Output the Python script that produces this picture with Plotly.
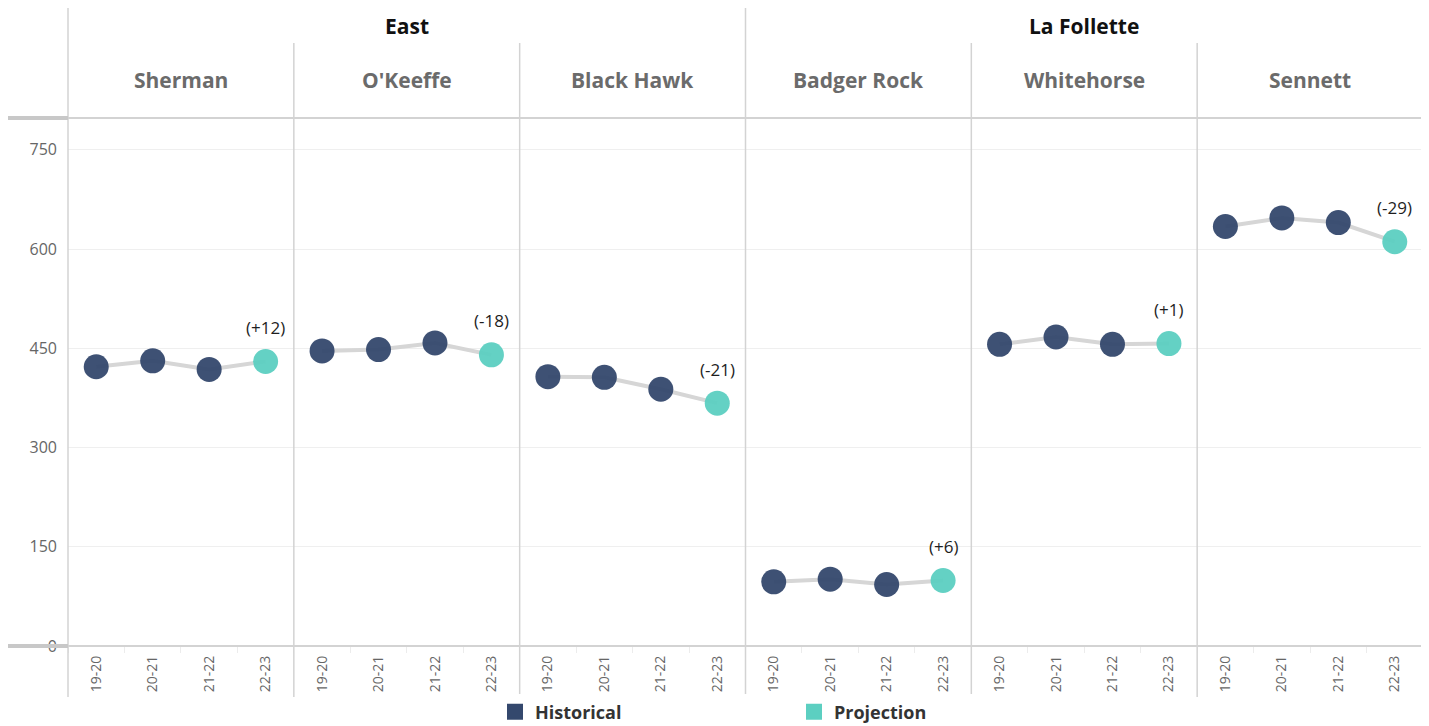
import plotly.graph_objects as go

groups = ["East", "East", "East", "La Follette", "La Follette", "La Follette"]
schools = ["Sherman", "O'Keeffe", "Black Hawk", "Badger Rock", "Whitehorse", "Sennett"]
years = ["19-20", "20-21", "21-22", "22-23"]

sherman = [422, 431, 418, 430]
okeeffe = [446, 448, 458, 440]
black_hawk = [407, 406, 388, 367]
badger_rock = [97, 101, 93, 99]
whitehorse = [456, 467, 456, 457]
sennett = [634, 647, 640, 611]

series = [sherman, okeeffe, black_hawk, badger_rock, whitehorse, sennett]
y_ticks = [0, 150, 300, 450, 600, 750]

HIST = "#34486d"
PROJ = "#5ccfc1"
LINE = "#d6d6d6"
FONT = "Open Sans"

# figure geometry (page body adds an 8px offset)
W, H = 1421, 718
ML, MR, MT, MB = 60, 6, 110, 80
PW, PH = W - ML - MR, H - MT - MB


def py(screen_y):
    return (H - MB - (screen_y - 8)) / PH


def px(screen_x):
    return (screen_x - 8 - ML) / PW


n = len(years)
fig = go.Figure()

tickvals, ticktext = [], []
for p, vals in enumerate(series):
    xs = [p * n + i for i in range(n)]
    tickvals += xs
    ticktext += years
    fig.add_trace(go.Scatter(x=xs, y=vals, mode="lines", line=dict(color=LINE, width=4),
                             showlegend=False, hoverinfo="skip"))
    fig.add_trace(go.Scatter(x=xs[:-1], y=vals[:-1], mode="markers",
                             marker=dict(color=HIST, size=25, opacity=0.95),
                             showlegend=False, name=schools[p]))
    fig.add_trace(go.Scatter(x=xs[-1:], y=vals[-1:], mode="markers",
                             marker=dict(color=PROJ, size=25, opacity=0.95),
                             showlegend=False, name=schools[p]))
    diff = vals[-1] - vals[-2]
    fig.add_annotation(x=xs[-1], y=vals[-1], xref="x", yref="y", text=f"({diff:+d})",
                       showarrow=False, yshift=34, yanchor="middle",
                       font=dict(family=FONT, size=17, color="#1e1e1e"))
    fig.add_annotation(x=p * n + (n - 1) / 2, y=py(80), xref="x", yref="paper",
                       text=f"<b>{schools[p]}</b>", showarrow=False, yanchor="middle",
                       font=dict(family=FONT, size=21, color="#6b6b6b"))

# legend entries
fig.add_trace(go.Scatter(x=[None], y=[None], mode="markers", name="<b>Historical</b>",
                         marker=dict(color=HIST, size=17, symbol="square")))
fig.add_trace(go.Scatter(x=[None], y=[None], mode="markers", name="<b>Projection</b>",
                         marker=dict(color=PROJ, size=17, symbol="square")))

# group headers
grp_names = []
for g in groups:
    if g not in grp_names:
        grp_names.append(g)
for g in grp_names:
    idx = [i for i, gg in enumerate(groups) if gg == g]
    center = (idx[0] * n + idx[-1] * n + n - 1) / 2
    fig.add_annotation(x=center, y=py(26), xref="x", yref="paper", yanchor="middle",
                       text=f"<b>{g}</b>", showarrow=False,
                       font=dict(family=FONT, size=21, color="#111111"))

GRID = "#d3d3d3"
y_top, y_sub, y_bot = py(8), py(43), py(697)
x_left = px(6)
shapes = []
for xp in [0, 1]:
    shapes.append(dict(type="line", xref="paper", yref="paper", x0=xp, x1=xp, y0=y_bot, y1=y_top,
                       line=dict(color=GRID, width=1.5)))
for p in range(1, len(schools)):
    top = y_top if groups[p] != groups[p - 1] else y_sub
    shapes.append(dict(type="line", xref="x", yref="paper", x0=p * n - 0.5, x1=p * n - 0.5,
                       y0=y_bot, y1=top, line=dict(color=GRID, width=1.5)))
for yp in [0, 1]:
    shapes.append(dict(type="line", xref="paper", yref="paper", x0=x_left, x1=1, y0=yp, y1=yp,
                       line=dict(color=GRID, width=2)))
    shapes.append(dict(type="line", xref="paper", yref="paper", x0=x_left, x1=0, y0=yp, y1=yp,
                       line=dict(color="#c8c8c8", width=4)))
fig.update_layout(shapes=shapes)

fig.update_xaxes(range=[-0.5, len(schools) * n - 0.5], tickmode="array", tickvals=tickvals,
                 ticktext=ticktext, tickangle=-90, showgrid=False, zeroline=False,
                 tickfont=dict(family=FONT, size=14, color="#666666"), ticks="",
                 ticklabelstandoff=6, automargin=False,
                 minor=dict(ticks="outside", tick0=0.5, dtick=1, ticklen=6, tickcolor="#ececec",
                            tickwidth=1, showgrid=False))
fig.update_yaxes(range=[0, 798], tickmode="array", tickvals=y_ticks, showgrid=True,
                 gridcolor="#efefef", gridwidth=1, zeroline=False, ticks="", automargin=False,
                 tickfont=dict(family=FONT, size=16, color="#666666"), ticklabelstandoff=10)

fig.update_layout(
    width=W, height=H,
    margin=dict(l=ML, r=MR, t=MT, b=MB, autoexpand=False),
    plot_bgcolor="white", paper_bgcolor="white",
    font=dict(family=FONT),
    legend=dict(orientation="h", x=px(495), xanchor="left", y=py(712),
                yanchor="middle", entrywidth=254, entrywidthmode="pixels",
                font=dict(family=FONT, size=18, color="#333333"), itemsizing="trace"),
    hovermode="closest",
)

fig.write_html("out.html")
